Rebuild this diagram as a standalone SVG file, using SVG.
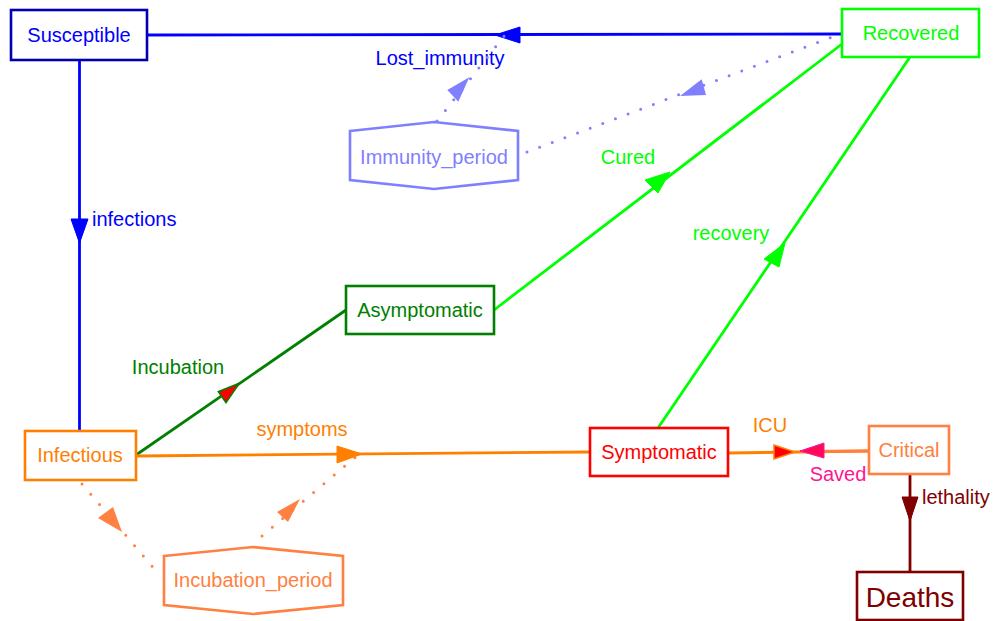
<svg xmlns="http://www.w3.org/2000/svg" width="995" height="621" viewBox="0 0 995 621">
<style>
text{font-family:"Liberation Sans",Arial,sans-serif;font-size:20px;dominant-baseline:central}
.box{fill:#fff;stroke-width:2.6}
.flow{fill:none;stroke-width:2.8}
.dot{fill:none;stroke-width:3;stroke-linecap:round;stroke-dasharray:0 13.5}
.c{text-anchor:middle}
</style>
<rect width="995" height="621" fill="#fff"/>
<g id="connectors">
  <!-- Recovered -> Susceptible (Lost_immunity) -->
  <line class="flow" x1="147" y1="35" x2="842" y2="34" stroke="#0000ff"/>
  <polygon points="495,35 520,27 520,43" fill="#0000ff" stroke="#0000ff" stroke-width="1"/>
  <text x="440" y="58" class="c" fill="#0000ff">Lost_immunity</text>
  <!-- Susceptible -> Infectious (infections) -->
  <line class="flow" x1="79.5" y1="60" x2="79.5" y2="431" stroke="#0000ff"/>
  <polygon points="79.5,243 71,219 88,219" fill="#0000ff" stroke="#0000ff" stroke-width="1"/>
  <text x="92" y="219" fill="#0000ff">infections</text>
  <!-- Infectious -> Asymptomatic (Incubation) -->
  <line class="flow" x1="136" y1="455" x2="346" y2="310" stroke="#008000"/>
  <polygon points="239.3,383.3 218.3,391.7 226,402.7" fill="#ff0000" stroke="#008000" stroke-width="1.5"/>
  <text x="178" y="367" class="c" fill="#008000">Incubation</text>
  <!-- Infectious -> Symptomatic (symptoms) -->
  <line class="flow" x1="136" y1="456" x2="590" y2="452" stroke="#ff8000"/>
  <polygon points="362,454 337,446 337,463" fill="#ff8000" stroke="#ff8000" stroke-width="1"/>
  <text x="302" y="429" class="c" fill="#ff8000">symptoms</text>
  <!-- Asymptomatic -> Recovered (Cured) -->
  <line class="flow" x1="494" y1="310" x2="842" y2="44" stroke="#00ff00"/>
  <polygon points="670,172 645,180 658,193" fill="#00ff00" stroke="#00ff00" stroke-width="1"/>
  <text x="628" y="157" class="c" fill="#00ff00">Cured</text>
  <!-- Symptomatic -> Recovered (recovery) -->
  <line class="flow" x1="658" y1="428" x2="910" y2="57" stroke="#00ff00"/>
  <polygon points="785,243 764,259 779,267" fill="#00ff00" stroke="#00ff00" stroke-width="1"/>
  <text x="731" y="233" class="c" fill="#00ff00">recovery</text>
  <!-- Symptomatic <-> Critical (ICU / Saved) -->
  <line class="flow" x1="728" y1="453" x2="869" y2="451" stroke="#ff8000"/>
  <line class="flow" x1="800" y1="451.5" x2="869" y2="451" stroke="#ff8040"/>
  <polygon points="795,452 774,445 774,459" fill="#ff0000" stroke="#ff8000" stroke-width="1.5"/>
  <polygon points="800,451 824,443 824,458" fill="#ff0a5a" stroke="#ff1493" stroke-width="1"/>
  <text x="770" y="425" class="c" fill="#ff8000">ICU</text>
  <text x="838" y="474" class="c" fill="#ff1493">Saved</text>
  <!-- Critical -> Deaths (lethality) -->
  <line class="flow" x1="910" y1="474" x2="910" y2="572" stroke="#800000"/>
  <polygon points="910,521 902,497 918,497" fill="#800000" stroke="#800000" stroke-width="1"/>
  <text x="922" y="497" fill="#800000">lethality</text>
  <!-- dotted links -->
  <line class="dot" x1="437" y1="121" x2="505" y2="35" stroke="#8080ff"/>
  <polygon points="469.3,77.3 447.3,90 458.3,101.7" fill="#8080ff"/>
  <line class="dot" x1="527" y1="152" x2="840" y2="34" stroke="#8080ff"/>
  <polygon points="680,96 701.7,79.3 706,95" fill="#8080ff"/>
  <line class="dot" x1="82" y1="484" x2="157" y2="572" stroke="#ff8040"/>
  <polygon points="122,532 98,518 113,507" fill="#ff8040"/>
  <line class="dot" x1="262" y1="536" x2="358" y2="455" stroke="#ff8040"/>
  <polygon points="300,499 277,512 288,522" fill="#ff8040"/>
</g>
<g id="Susceptible">
  <rect class="box" x="11" y="10" width="136" height="50" stroke="#0000b0"/>
  <text x="79" y="35" class="c" fill="#0000ff">Susceptible</text>
</g>
<g id="Recovered">
  <rect class="box" x="842" y="9" width="137" height="48" stroke="#00ff00"/>
  <text x="911" y="33" class="c" fill="#00ff00">Recovered</text>
</g>
<g id="Immunity_period">
  <polygon class="box" points="350,131 434,122 518,131 518,180 434,189 350,180" stroke="#8080ff"/>
  <text x="434" y="157" class="c" fill="#8080ff">Immunity_period</text>
</g>
<g id="Asymptomatic">
  <rect class="box" x="346" y="286" width="148" height="48" stroke="#008000"/>
  <text x="420" y="310" class="c" fill="#008000">Asymptomatic</text>
</g>
<g id="Infectious">
  <rect class="box" x="25" y="431" width="111" height="49" stroke="#ff8000"/>
  <text x="80" y="455" class="c" fill="#ff8000">Infectious</text>
</g>
<g id="Symptomatic">
  <rect class="box" x="590" y="428" width="138" height="48" stroke="#ff0000"/>
  <text x="659" y="452" class="c" fill="#ff0000">Symptomatic</text>
</g>
<g id="Critical">
  <rect class="box" x="869" y="426" width="80" height="48" stroke="#ff8040"/>
  <text x="909" y="450" class="c" fill="#ff8040">Critical</text>
</g>
<g id="Incubation_period">
  <polygon class="box" points="164,556 253,547 343,556 343,605 253,614 164,605" stroke="#ff8040"/>
  <text x="253" y="580" class="c" fill="#ff8040">Incubation_period</text>
</g>
<g id="Deaths">
  <rect class="box" x="857" y="572" width="106" height="48" stroke="#800000"/>
  <text x="910" y="597" class="c" fill="#800000" style="font-size:28px">Deaths</text>
</g>
</svg>
